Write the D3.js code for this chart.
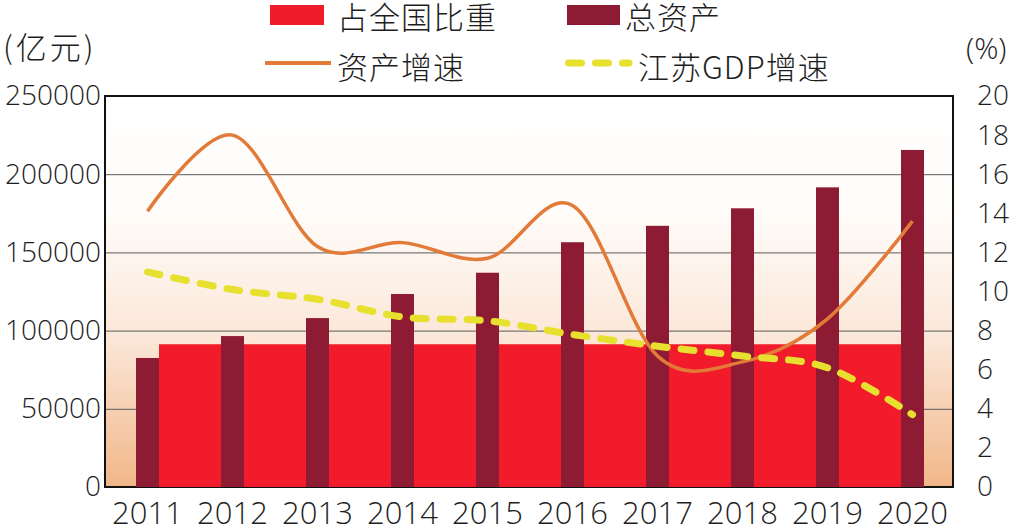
<!DOCTYPE html>
<html>
<head>
<meta charset="utf-8">
<script src="https://cdn.jsdelivr.net/npm/d3@7"></script>
<style>
  body { margin: 0; background: #fff; }
  svg text { fill: #1e1e1e; }
  .num { font-family: "Open Sans", "Liberation Sans", Arial, sans-serif; font-weight: 300; }
  .cjk { font-family: "Noto Sans CJK SC", sans-serif; font-weight: 300; }
</style>
</head>
<body>
<div id="chart"></div>
<script>
// data
var years = ["2011", "2012", "2013", "2014", "2015", "2016", "2017", "2018", "2019", "2020"];
var totalAssets = [82500, 96500, 108000, 123400, 137000, 156500, 167000, 178200, 191600, 215500]; // 亿元
var nationalShare = [7.3, 7.3, 7.3, 7.3, 7.3, 7.3, 7.3, 7.3, 7.3, 7.3]; // %
var assetGrowth = [14.1, 18.0, 12.3, 12.5, 11.7, 14.4, 6.7, 6.4, 8.6, 13.6]; // %
var gdpGrowth = [11.0, 10.1, 9.6, 8.7, 8.5, 7.8, 7.2, 6.7, 6.1, 3.7]; // %
var leftTicks = [0, 50000, 100000, 150000, 200000, 250000];
var rightTicks = [0, 2, 4, 6, 8, 10, 12, 14, 16, 18, 20];

var width = 1025, height = 532;
var plot = { left: 105, right: 953, top: 96, bottom: 487 };
var barW = 23;

var svg = d3.select("#chart")
            .append("svg")
            .attr("width", width)
            .attr("height", height);

// scales
var x = d3.scaleBand()
          .domain(years)
          .range([plot.left, plot.left + 850])
          .padding(0);
var yLeft = d3.scaleLinear().domain([0, 250000]).range([plot.bottom, plot.top]);
var yRight = d3.scaleLinear().domain([0, 20]).range([plot.bottom, plot.top]);
var cx = function(d) { return x(d) + x.bandwidth() / 2; };

// background gradient
var grad = svg.append("defs").append("linearGradient")
              .attr("id", "bg").attr("x1", 0).attr("y1", 0).attr("x2", 0).attr("y2", 1);
grad.append("stop").attr("offset", "0").attr("stop-color", "#ffffff");
grad.append("stop").attr("offset", "0.3").attr("stop-color", "#fffcf9");
grad.append("stop").attr("offset", "0.62").attr("stop-color", "#fbe7d8");
grad.append("stop").attr("offset", "1").attr("stop-color", "#f1b688");

svg.append("rect")
   .attr("x", plot.left).attr("y", plot.top)
   .attr("width", plot.right - plot.left).attr("height", plot.bottom - plot.top)
   .attr("fill", "url(#bg)");

// gridlines
svg.append("g")
   .attr("transform", "translate(" + plot.left + ",0)")
   .call(d3.axisLeft(yLeft).tickValues([50000, 100000, 150000, 200000])
           .tickSize(-(plot.right - plot.left)).tickFormat(""))
   .call(function(g) { g.select(".domain").remove(); })
   .selectAll("line").attr("stroke", "#5a5a5a").attr("stroke-width", 1);

// frame
svg.append("rect")
   .attr("x", plot.left).attr("y", plot.top)
   .attr("width", plot.right - plot.left).attr("height", plot.bottom - plot.top)
   .attr("fill", "none").attr("stroke", "#111").attr("stroke-width", 2);

// 占全国比重 (area, runs between the first and last bar)
var last = years.length - 1;
var area = d3.area()
             .x(function(d, i) {
               if (i === 0) return cx(years[i]) + barW / 2;
               if (i === last) return cx(years[i]) - barW / 2;
               return cx(years[i]);
             })
             .y0(plot.bottom)
             .y1(function(d) { return yRight(d); });
svg.append("path")
   .datum(nationalShare)
   .attr("d", area)
   .attr("fill", "#f21b2b");

// 总资产 (bars)
svg.selectAll(".bar")
   .data(totalAssets)
   .enter()
   .append("rect")
   .attr("class", "bar")
   .attr("x", function(d, i) { return cx(years[i]) - barW / 2; })
   .attr("y", function(d) { return yLeft(d); })
   .attr("width", barW)
   .attr("height", function(d) { return plot.bottom - yLeft(d); })
   .attr("fill", "#8c1b33");

// lines
var line = d3.line()
             .x(function(d, i) { return cx(years[i]); })
             .y(function(d) { return yRight(d); })
             .curve(d3.curveCardinal.tension(0));

svg.append("path")
   .datum(assetGrowth)
   .attr("d", line)
   .attr("fill", "none")
   .attr("stroke", "#e27a38")
   .attr("stroke-width", 3.5);

svg.append("path")
   .datum(gdpGrowth)
   .attr("d", line)
   .attr("fill", "none")
   .attr("stroke", "#e8e02e")
   .attr("stroke-width", 7)
   .attr("stroke-linecap", "round")
   .attr("stroke-dasharray", "13 14");

// axes labels
var styleAxis = function(g) {
  g.attr("font-family", null);
  g.select(".domain").remove();
  g.selectAll("line").remove();
  g.selectAll("text").attr("class", "num").style("font-size", "28px").attr("fill", "#1e1e1e");
};

svg.append("g")
   .attr("transform", "translate(" + plot.left + ",0)")
   .call(d3.axisLeft(yLeft).tickValues(leftTicks).tickSize(0).tickPadding(4).tickFormat(d3.format("d")))
   .call(styleAxis);

svg.append("g")
   .attr("transform", "translate(" + plot.right + ",0)")
   .call(d3.axisRight(yRight).tickValues(rightTicks).tickSize(0).tickPadding(24))
   .call(styleAxis);

svg.append("g")
   .attr("transform", "translate(0," + plot.bottom + ")")
   .call(d3.axisBottom(x).tickSize(0).tickPadding(15))
   .call(styleAxis)
   .selectAll("text").style("font-size", "31px");

// units
svg.append("text").attr("class", "cjk").attr("x", 3).attr("y", 59)
   .style("font-size", "31px").style("letter-spacing", "3px").text("(亿元)");
svg.append("text").attr("class", "num").attr("x", 966).attr("y", 59)
   .style("font-size", "30px").text("(%)");

// legend
var legend = svg.append("g");
legend.append("rect").attr("x", 270).attr("y", 5).attr("width", 54).attr("height", 20).attr("fill", "#ef1c2b");
legend.append("rect").attr("x", 567).attr("y", 5).attr("width", 53).attr("height", 20).attr("fill", "#8c1b33");
legend.append("line").attr("x1", 265).attr("x2", 331).attr("y1", 63).attr("y2", 63)
      .attr("stroke", "#e27a38").attr("stroke-width", 4);
legend.append("line").attr("x1", 568.5).attr("x2", 629).attr("y1", 63).attr("y2", 63)
      .attr("stroke", "#e8e02e").attr("stroke-width", 7)
      .attr("stroke-linecap", "round").attr("stroke-dasharray", "13 14");

var legendText = [
  { label: "占全国比重", x: 337, y: 29 },
  { label: "总资产", x: 625, y: 29 },
  { label: "资产增速", x: 337, y: 79 },
  { label: "江苏GDP增速", x: 638, y: 79 }
];
legend.selectAll(".lt")
      .data(legendText)
      .enter()
      .append("text")
      .attr("class", "cjk lt")
      .attr("x", function(d) { return d.x; })
      .attr("y", function(d) { return d.y; })
      .style("font-size", "31px")
      .style("letter-spacing", "1px")
      .text(function(d) { return d.label; });
</script>
</body>
</html>
